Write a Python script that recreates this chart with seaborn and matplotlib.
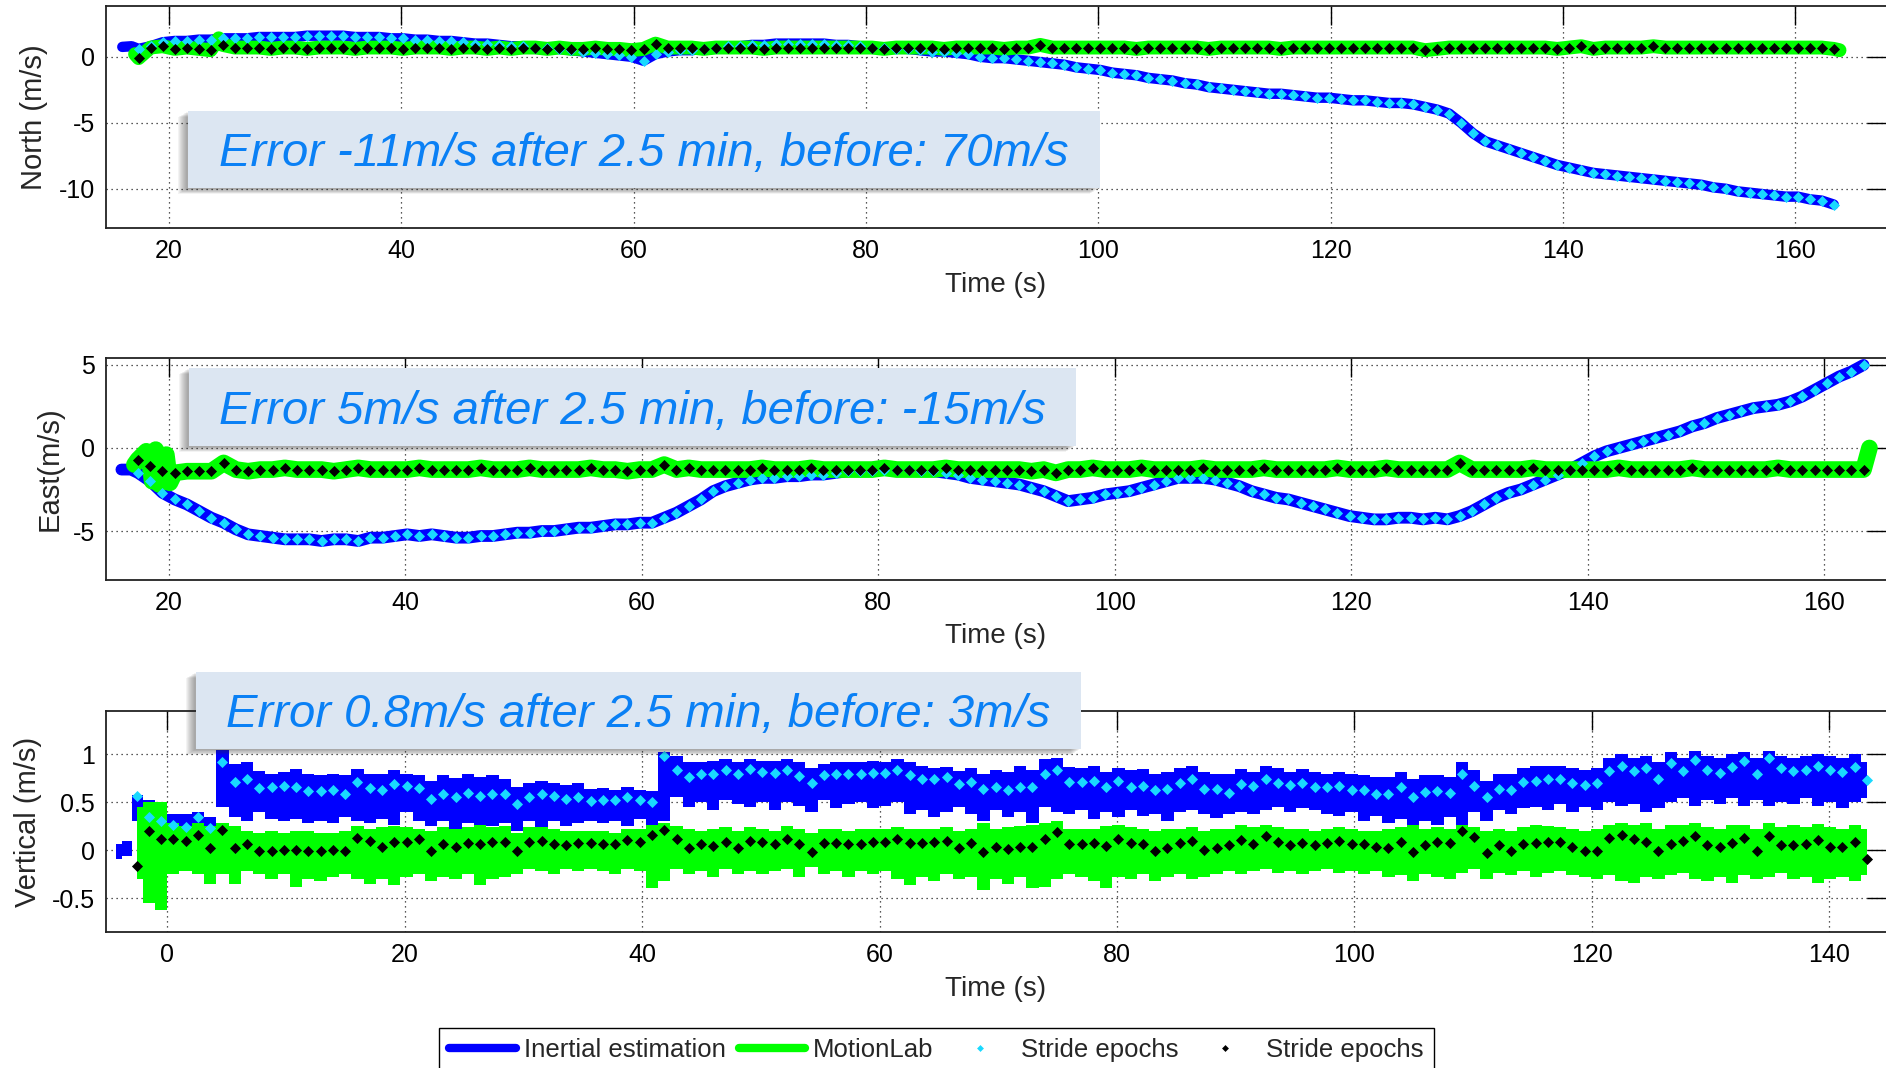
import numpy as np
import matplotlib
matplotlib.use("Agg")
import matplotlib.pyplot as plt
import seaborn as sns
from matplotlib.lines import Line2D
from matplotlib.patches import Rectangle

# ------------------------------------------------------------------ data
# stride epochs (same epochs in every panel, time origin differs)
north_stride_t0, north_stride_t1 = 17.4, 163.3
vert_stride_t0, vert_stride_t1 = -2.6, 143.2

north_inertial = [
    0.6, 0.8, 1.1, 1.2, 1.2, 1.3, 1.3, 1.4, 1.4, 1.4,
    1.5, 1.5, 1.5, 1.5, 1.6, 1.6, 1.6, 1.6, 1.5, 1.5,
    1.5, 1.4, 1.4, 1.3, 1.3, 1.2, 1.2, 1.1, 1.0, 1.0,
    0.9, 0.8, 0.8, 0.7, 0.7, 0.6, 0.5, 0.4, 0.3, 0.2,
    0.1, 0.0, -0.3, 0.2, 0.4, 0.5, 0.5, 0.6, 0.7, 0.8,
    0.8, 0.9, 0.9, 1.0, 1.0, 1.0, 1.0, 1.0, 0.9, 0.9,
    0.8, 0.7, 0.7, 0.6, 0.6, 0.5, 0.4, 0.4, 0.3, 0.2,
    0.0, -0.1, -0.1, -0.2, -0.3, -0.4, -0.5, -0.6, -0.8, -0.9,
    -1.0, -1.2, -1.3, -1.4, -1.6, -1.7, -1.8, -2.0, -2.1, -2.3,
    -2.4, -2.5, -2.6, -2.7, -2.8, -2.8, -2.9, -3.0, -3.1, -3.1,
    -3.2, -3.3, -3.3, -3.4, -3.5, -3.5, -3.6, -3.8, -4.0, -4.3,
    -5.0, -5.8, -6.4, -6.7, -7.0, -7.3, -7.6, -7.9, -8.2, -8.4,
    -8.6, -8.8, -8.9, -9.0, -9.1, -9.2, -9.3, -9.4, -9.5, -9.6,
    -9.7, -9.9, -10.0, -10.2, -10.3, -10.4, -10.5, -10.6, -10.6, -10.8,
    -10.9, -11.2]
north_motionlab = [
    -0.1, 0.7, 0.8, 0.6, 0.7, 0.6, 0.5, 0.9, 0.7, 0.7,
    0.7, 0.6, 0.7, 0.7, 0.6, 0.7, 0.7, 0.7, 0.6, 0.7,
    0.7, 0.7, 0.6, 0.7, 0.7, 0.7, 0.6, 0.7, 0.7, 0.6,
    0.7, 0.6, 0.7, 0.7, 0.6, 0.7, 0.6, 0.6, 0.7, 0.6,
    0.6, 0.5, 0.6, 1.0, 0.7, 0.7, 0.7, 0.6, 0.7, 0.7,
    0.7, 0.7, 0.6, 0.7, 0.7, 0.7, 0.7, 0.7, 0.7, 0.7,
    0.7, 0.7, 0.6, 0.7, 0.7, 0.7, 0.7, 0.6, 0.7, 0.7,
    0.7, 0.7, 0.6, 0.7, 0.7, 0.9, 0.7, 0.7, 0.7, 0.7,
    0.7, 0.7, 0.7, 0.6, 0.7, 0.7, 0.7, 0.7, 0.7, 0.6,
    0.7, 0.7, 0.7, 0.7, 0.7, 0.6, 0.7, 0.7, 0.7, 0.7,
    0.7, 0.7, 0.7, 0.7, 0.7, 0.7, 0.7, 0.5, 0.6, 0.7,
    0.7, 0.7, 0.7, 0.7, 0.7, 0.7, 0.7, 0.7, 0.6, 0.7,
    0.8, 0.6, 0.7, 0.7, 0.7, 0.7, 0.8, 0.7, 0.7, 0.7,
    0.7, 0.7, 0.7, 0.7, 0.7, 0.7, 0.7, 0.7, 0.7, 0.7,
    0.7, 0.6]
north_inertial_head_t = [16.0, 16.8]
north_inertial_head_v = [0.75, 0.8]
north_motionlab_extra_t = [17.1, 24.3, 163.8]
north_motionlab_extra_v = [0.2, 1.4, 0.5]

east_inertial = [
    -1.5, -2.0, -2.7, -3.1, -3.4, -3.8, -4.2, -4.5, -4.9, -5.2,
    -5.3, -5.4, -5.5, -5.5, -5.5, -5.6, -5.5, -5.5, -5.6, -5.4,
    -5.4, -5.3, -5.2, -5.3, -5.2, -5.3, -5.4, -5.4, -5.3, -5.3,
    -5.2, -5.1, -5.1, -5.0, -5.0, -4.9, -4.8, -4.8, -4.7, -4.6,
    -4.6, -4.5, -4.5, -4.2, -3.9, -3.5, -3.1, -2.6, -2.3, -2.1,
    -1.9, -1.8, -1.8, -1.7, -1.7, -1.6, -1.6, -1.5, -1.4, -1.4,
    -1.4, -1.3, -1.3, -1.3, -1.4, -1.4, -1.5, -1.6, -1.8, -1.9,
    -2.0, -2.1, -2.2, -2.4, -2.6, -2.9, -3.2, -3.1, -3.0, -2.8,
    -2.7, -2.6, -2.4, -2.2, -2.0, -1.8, -1.8, -1.8, -1.9, -2.1,
    -2.3, -2.6, -2.8, -3.0, -3.1, -3.3, -3.5, -3.7, -3.9, -4.1,
    -4.2, -4.3, -4.3, -4.2, -4.2, -4.3, -4.2, -4.3, -4.1, -3.8,
    -3.4, -3.0, -2.7, -2.5, -2.2, -1.9, -1.6, -1.3, -0.9, -0.5,
    -0.2, 0.0, 0.2, 0.4, 0.6, 0.8, 1.0, 1.3, 1.5, 1.8,
    2.0, 2.2, 2.4, 2.5, 2.6, 2.8, 3.1, 3.5, 3.9, 4.3,
    4.6, 5.0]
east_motionlab = [
    -0.7, -1.1, -1.4, -1.5, -1.4, -1.4, -1.4, -0.9, -1.3, -1.4,
    -1.3, -1.3, -1.2, -1.3, -1.3, -1.3, -1.4, -1.3, -1.2, -1.3,
    -1.3, -1.3, -1.3, -1.2, -1.3, -1.3, -1.3, -1.3, -1.2, -1.3,
    -1.3, -1.3, -1.2, -1.3, -1.3, -1.3, -1.3, -1.2, -1.3, -1.3,
    -1.4, -1.3, -1.3, -1.0, -1.3, -1.2, -1.3, -1.3, -1.3, -1.3,
    -1.3, -1.2, -1.3, -1.3, -1.3, -1.2, -1.3, -1.3, -1.3, -1.3,
    -1.3, -1.2, -1.3, -1.3, -1.3, -1.3, -1.2, -1.3, -1.3, -1.3,
    -1.3, -1.3, -1.3, -1.4, -1.3, -1.5, -1.3, -1.3, -1.2, -1.3,
    -1.3, -1.3, -1.2, -1.3, -1.3, -1.3, -1.3, -1.2, -1.3, -1.3,
    -1.3, -1.3, -1.2, -1.3, -1.3, -1.3, -1.3, -1.3, -1.2, -1.3,
    -1.3, -1.3, -1.2, -1.3, -1.3, -1.3, -1.3, -1.3, -0.9, -1.3,
    -1.3, -1.3, -1.3, -1.3, -1.2, -1.3, -1.3, -1.3, -1.3, -1.3,
    -1.3, -1.2, -1.3, -1.3, -1.3, -1.3, -1.3, -1.2, -1.3, -1.3,
    -1.3, -1.3, -1.3, -1.3, -1.2, -1.3, -1.3, -1.3, -1.3, -1.3,
    -1.3, -1.3]
east_inertial_head_t = [16.0, 16.8]
east_inertial_head_v = [-1.3, -1.3]
east_motionlab_extra_t = [17.1, 18.1, 18.6, 18.9, 19.2, 19.8, 20.1, 163.8]
east_motionlab_extra_v = [-1.0, -0.2, -2.0, -0.1, -2.2, -0.4, -2.1, 0.0]

vert_inertial = [
    0.57, 0.35, 0.30, 0.26, 0.24, 0.35, 0.23, 0.92, 0.71, 0.74,
    0.65, 0.66, 0.67, 0.66, 0.62, 0.62, 0.63, 0.59, 0.71, 0.65,
    0.63, 0.69, 0.67, 0.65, 0.53, 0.59, 0.56, 0.60, 0.57, 0.59,
    0.59, 0.48, 0.55, 0.59, 0.57, 0.53, 0.55, 0.51, 0.52, 0.52,
    0.56, 0.52, 0.50,
    0.98, 0.84, 0.76, 0.79, 0.80, 0.84, 0.79, 0.85, 0.82, 0.81,
    0.84, 0.77, 0.70, 0.78, 0.79, 0.80, 0.80, 0.81, 0.81, 0.84,
    0.78, 0.74, 0.74, 0.76, 0.69, 0.71, 0.64, 0.66, 0.63, 0.66,
    0.66, 0.79, 0.84, 0.71, 0.71, 0.72, 0.66, 0.72, 0.66, 0.67,
    0.63, 0.64, 0.70, 0.74, 0.64, 0.64, 0.60, 0.69,
    0.67, 0.74, 0.70, 0.68, 0.70, 0.66, 0.66, 0.67, 0.63, 0.63,
    0.59, 0.59, 0.66, 0.56, 0.61, 0.62, 0.60, 0.79, 0.67, 0.55,
    0.64, 0.63, 0.71, 0.72, 0.74, 0.74, 0.70, 0.68, 0.70, 0.83,
    0.88, 0.83, 0.86, 0.74, 0.91, 0.83, 0.94, 0.84, 0.81, 0.87,
    0.93, 0.80, 0.96, 0.86, 0.83, 0.84, 0.88, 0.84, 0.82, 0.87,
    0.73]
vert_motionlab = [
    -0.17, 0.20, 0.12, 0.12, 0.10, 0.16, 0.02, 0.21, 0.02, 0.06,
    -0.01, -0.01, 0.00, 0.00, -0.01, -0.01, 0.00, -0.01, 0.13, 0.10,
    0.03, 0.09, 0.09, 0.12, -0.01, 0.06, 0.03, 0.07, 0.06, 0.09,
    0.09, -0.01, 0.09, 0.10, 0.06, 0.05, 0.07, 0.07, 0.06, 0.06,
    0.11, 0.08, 0.16,
    0.21, 0.12, 0.02, 0.06, 0.04, 0.09, 0.02, 0.10, 0.08, 0.06,
    0.12, 0.06, -0.02, 0.07, 0.07, 0.06, 0.06, 0.09, 0.08, 0.12,
    0.07, 0.07, 0.08, 0.10, 0.02, 0.07, -0.02, 0.03, 0.01, 0.03,
    0.03, 0.12, 0.19, 0.06, 0.06, 0.07, 0.04, 0.12, 0.07, 0.06,
    -0.01, 0.02, 0.07, 0.10, 0.00, 0.02, 0.05, 0.11,
    0.06, 0.15, 0.09, 0.05, 0.07, 0.05, 0.07, 0.10, 0.06, 0.06,
    0.03, 0.02, 0.09, -0.02, 0.05, 0.09, 0.07, 0.20, 0.14, -0.03,
    0.05, -0.01, 0.06, 0.07, 0.09, 0.09, 0.03, -0.01, -0.01, 0.13,
    0.16, 0.12, 0.09, -0.01, 0.06, 0.10, 0.15, 0.05, 0.03, 0.07,
    0.13, -0.01, 0.15, 0.05, 0.05, 0.06, 0.11, 0.03, 0.03, 0.09,
    -0.09]
# per-stride envelopes of the oscillating vertical signals
vert_inertial_hi = [
    0.58, 0.52, 0.50, 0.38, 0.38, 0.40, 0.35, 1.05, 0.90, 0.92,
    0.83, 0.80, 0.82, 0.85, 0.79, 0.78, 0.80, 0.78, 0.85, 0.80,
    0.80, 0.84, 0.80, 0.78, 0.72, 0.78, 0.75, 0.80, 0.76, 0.78,
    0.74, 0.66, 0.70, 0.72, 0.70, 0.68, 0.70, 0.64, 0.65, 0.63,
    0.66, 0.63, 0.62,
    1.02, 0.98, 0.92, 0.92, 0.93, 0.95, 0.92, 0.95, 0.93, 0.93,
    0.95, 0.92, 0.86, 0.90, 0.92, 0.92, 0.92, 0.93, 0.92, 0.95,
    0.92, 0.88, 0.86, 0.87, 0.83, 0.86, 0.80, 0.84, 0.82, 0.88,
    0.84, 0.95, 0.96, 0.87, 0.86, 0.88, 0.82, 0.86, 0.84, 0.85,
    0.80, 0.82, 0.86, 0.88, 0.82, 0.80, 0.80, 0.85,
    0.82, 0.88, 0.86, 0.82, 0.85, 0.82, 0.80, 0.82, 0.80, 0.78,
    0.76, 0.76, 0.82, 0.74, 0.78, 0.78, 0.76, 0.92, 0.84, 0.72,
    0.80, 0.80, 0.86, 0.88, 0.88, 0.88, 0.86, 0.84, 0.86, 0.96,
    1.00, 0.96, 0.98, 0.92, 1.02, 0.96, 1.04, 0.98, 0.96, 1.00,
    1.02, 0.96, 1.04, 0.98, 0.96, 0.98, 1.00, 0.98, 0.96, 1.00,
    0.92]
vert_inertial_lo = [
    0.30, 0.28, 0.20, 0.15, 0.15, 0.18, 0.15, 0.45, 0.35, 0.30,
    0.40, 0.32, 0.30, 0.33, 0.28, 0.30, 0.28, 0.35, 0.30, 0.28,
    0.32, 0.26, 0.40, 0.30, 0.25, 0.30, 0.22, 0.28, 0.22, 0.25,
    0.28, 0.20, 0.30, 0.22, 0.30, 0.25, 0.28, 0.30, 0.28, 0.30,
    0.25, 0.32, 0.22,
    0.30, 0.55, 0.45, 0.50, 0.42, 0.52, 0.48, 0.45, 0.50, 0.42,
    0.50, 0.46, 0.40, 0.52, 0.44, 0.48, 0.50, 0.44, 0.46, 0.50,
    0.38, 0.42, 0.35, 0.40, 0.45, 0.38, 0.30, 0.42, 0.35, 0.40,
    0.28, 0.45, 0.40, 0.38, 0.42, 0.32, 0.40, 0.35, 0.42, 0.36,
    0.38, 0.30, 0.40, 0.42, 0.38, 0.34, 0.38, 0.40,
    0.38, 0.42, 0.45, 0.40, 0.44, 0.42, 0.38, 0.36, 0.40, 0.30,
    0.36, 0.28, 0.32, 0.24, 0.30, 0.26, 0.35, 0.22, 0.40, 0.30,
    0.42, 0.38, 0.44, 0.45, 0.42, 0.48, 0.40, 0.45, 0.42, 0.50,
    0.46, 0.48, 0.40, 0.44, 0.50, 0.54, 0.46, 0.52, 0.48, 0.54,
    0.46, 0.52, 0.46, 0.50, 0.48, 0.54, 0.46, 0.50, 0.44, 0.50,
    0.54]
vert_motionlab_hi = [
    0.45, 0.50, 0.50, 0.28, 0.25, 0.28, 0.25, 0.28, 0.25, 0.20,
    0.18, 0.20, 0.18, 0.20, 0.20, 0.18, 0.18, 0.20, 0.25, 0.22,
    0.24, 0.25, 0.24, 0.22, 0.20, 0.24, 0.22, 0.24, 0.26, 0.24,
    0.25, 0.18, 0.24, 0.24, 0.22, 0.20, 0.20, 0.20, 0.20, 0.18,
    0.22, 0.22, 0.26,
    0.28, 0.25, 0.22, 0.20, 0.22, 0.24, 0.20, 0.24, 0.22, 0.20,
    0.25, 0.22, 0.18, 0.22, 0.22, 0.20, 0.22, 0.22, 0.22, 0.24,
    0.22, 0.22, 0.22, 0.24, 0.20, 0.22, 0.28, 0.22, 0.24, 0.25,
    0.26, 0.28, 0.30, 0.22, 0.22, 0.22, 0.25, 0.26, 0.24, 0.22,
    0.20, 0.22, 0.22, 0.24, 0.20, 0.22, 0.22, 0.26,
    0.24, 0.26, 0.24, 0.22, 0.22, 0.20, 0.22, 0.24, 0.22, 0.20,
    0.20, 0.22, 0.24, 0.26, 0.22, 0.24, 0.22, 0.26, 0.24, 0.20,
    0.22, 0.20, 0.24, 0.26, 0.25, 0.24, 0.22, 0.20, 0.22, 0.26,
    0.28, 0.26, 0.28, 0.22, 0.26, 0.26, 0.28, 0.24, 0.22, 0.26,
    0.26, 0.22, 0.28, 0.24, 0.26, 0.24, 0.27, 0.24, 0.22, 0.26,
    0.22]
vert_motionlab_lo = [
    -0.30, -0.55, -0.62, -0.25, -0.22, -0.25, -0.35, -0.25, -0.35, -0.22,
    -0.25, -0.30, -0.25, -0.38, -0.30, -0.32, -0.28, -0.25, -0.30, -0.35,
    -0.30, -0.36, -0.28, -0.25, -0.32, -0.28, -0.30, -0.25, -0.36, -0.30,
    -0.28, -0.25, -0.20, -0.22, -0.25, -0.20, -0.22, -0.20, -0.22, -0.25,
    -0.20, -0.22, -0.40,
    -0.32, -0.20, -0.25, -0.22, -0.28, -0.20, -0.25, -0.22, -0.25, -0.22,
    -0.20, -0.28, -0.18, -0.25, -0.22, -0.28, -0.22, -0.25, -0.22, -0.30,
    -0.36, -0.28, -0.32, -0.25, -0.30, -0.28, -0.42, -0.30, -0.35, -0.28,
    -0.40, -0.38, -0.30, -0.25, -0.28, -0.32, -0.40, -0.28, -0.30, -0.25,
    -0.32, -0.28, -0.25, -0.30, -0.28, -0.25, -0.22, -0.25,
    -0.22, -0.20, -0.24, -0.22, -0.25, -0.22, -0.20, -0.24, -0.22, -0.25,
    -0.22, -0.28, -0.26, -0.32, -0.25, -0.28, -0.30, -0.24, -0.20, -0.30,
    -0.24, -0.26, -0.22, -0.28, -0.24, -0.22, -0.26, -0.28, -0.30, -0.26,
    -0.32, -0.34, -0.28, -0.30, -0.26, -0.24, -0.30, -0.32, -0.28, -0.34,
    -0.26, -0.30, -0.28, -0.24, -0.30, -0.28, -0.34, -0.30, -0.28, -0.32,
    -0.26]
vert_inertial_head_t = [-4.3, -3.3]
vert_inertial_head_hi = [0.06, 0.10]
vert_inertial_head_lo = [-0.09, -0.06]

# axis ticks / labels / annotations
top_xticks = [20, 40, 60, 80, 100, 120, 140, 160]
bottom_xticks = [0, 20, 40, 60, 80, 100, 120, 140]
north_yticks = [-10, -5, 0]
north_yticklabels = ["-10", "-5", "0"]
east_yticks = [-5, 0, 5]
east_yticklabels = ["-5", "0", "5"]
vert_yticks = [-0.5, 0, 0.5, 1]
vert_yticklabels = ["-0.5", "0", "0.5", "1"]
ylabels = ["North (m/s)", "East(m/s)", "Vertical (m/s)"]
xlabel = "Time (s)"
box_texts = ["Error -11m/s after 2.5 min, before: 70m/s",
             "Error 5m/s after 2.5 min, before: -15m/s",
             "Error 0.8m/s after 2.5 min, before: 3m/s"]
legend_labels = ["Inertial estimation", "MotionLab", "Stride epochs", "Stride epochs"]

# ------------------------------------------------------------------ style
sns.set_style("white")
plt.rcParams["font.family"] = ["Liberation Sans", "DejaVu Sans"]
plt.rcParams["axes.unicode_minus"] = False

BLUE = "#0000ff"
GREEN = "#00ff00"
CYAN = "#19d9ff"
BLACK = "#000000"

W, H = 1886, 1068
fig = plt.figure(figsize=(W / 100, H / 100), dpi=100)
fig.patch.set_facecolor("white")

LEFT = 105.8


def add_ax(top_px, bottom_px):
    return fig.add_axes([LEFT / W, 1 - bottom_px / H, 1 - LEFT / W, (bottom_px - top_px) / H])


ax1 = add_ax(6, 228.3)
ax2 = add_ax(358.3, 580)
ax3 = add_ax(710.7, 932.3)

tN = np.linspace(north_stride_t0, north_stride_t1, len(north_inertial))
tV = np.linspace(vert_stride_t0, vert_stride_t1, len(vert_inertial))


def merged(t_a, v_a, t_b, v_b):
    t = np.concatenate([np.asarray(t_a, float), np.asarray(t_b, float)])
    v = np.concatenate([np.asarray(v_a, float), np.asarray(v_b, float)])
    o = np.argsort(t, kind="stable")
    return t[o], v[o]


MS = 32

# ---- North
t, v = merged(north_inertial_head_t, north_inertial_head_v, tN, north_inertial)
sns.lineplot(x=t, y=v, ax=ax1, color=BLUE, lw=7.5, sort=False, estimator=None, legend=False, zorder=2)
t, v = merged(north_motionlab_extra_t, north_motionlab_extra_v, tN, north_motionlab)
sns.lineplot(x=t, y=v, ax=ax1, color=GREEN, lw=10, sort=False, estimator=None, legend=False, zorder=3)
sns.scatterplot(x=tN, y=north_inertial, ax=ax1, color=CYAN, marker="D", s=MS, linewidth=0, zorder=4, legend=False)
sns.scatterplot(x=tN, y=north_motionlab, ax=ax1, color=BLACK, marker="D", s=MS, linewidth=0, zorder=5, legend=False)

# ---- East
t, v = merged(east_inertial_head_t, east_inertial_head_v, tN, east_inertial)
sns.lineplot(x=t, y=v, ax=ax2, color=BLUE, lw=8.5, sort=False, estimator=None, legend=False, zorder=2)
t, v = merged(east_motionlab_extra_t, east_motionlab_extra_v, tN, east_motionlab)
sns.lineplot(x=t, y=v, ax=ax2, color=GREEN, lw=12, sort=False, estimator=None, legend=False, zorder=3)
sns.scatterplot(x=tN, y=east_inertial, ax=ax2, color=CYAN, marker="D", s=MS, linewidth=0, zorder=4, legend=False)
sns.scatterplot(x=tN, y=east_motionlab, ax=ax2, color=BLACK, marker="D", s=MS, linewidth=0, zorder=5, legend=False)

# ---- Vertical
n = min(len(vert_inertial_hi), len(vert_inertial_lo), len(tV))
tb = np.concatenate([vert_inertial_head_t, tV[:n]])
hi = np.concatenate([vert_inertial_head_hi, vert_inertial_hi[:n]])
lo = np.concatenate([vert_inertial_head_lo, vert_inertial_lo[:n]])
ax3.fill_between(tb, lo, hi, step="mid", color=BLUE, lw=0, zorder=2)
m = min(len(vert_motionlab_hi), len(vert_motionlab_lo), len(tV))
ax3.fill_between(tV[:m], vert_motionlab_lo[:m], vert_motionlab_hi[:m], step="mid", color=GREEN, lw=0, zorder=3)
sns.scatterplot(x=tV, y=vert_inertial, ax=ax3, color=CYAN, marker="D", s=MS, linewidth=0, zorder=4, legend=False)
sns.scatterplot(x=tV[:len(vert_motionlab)], y=vert_motionlab, ax=ax3, color=BLACK, marker="D", s=MS,
                linewidth=0, zorder=5, legend=False)

# ---- axes cosmetics
specs = [
    (ax1, (14.58, 167.8), (-13.0, 3.85), top_xticks, north_yticks, north_yticklabels, -0.0405, ylabels[0]),
    (ax2, (14.68, 165.2), (-7.95, 5.4), top_xticks, east_yticks, east_yticklabels, -0.0317, ylabels[1]),
    (ax3, (-5.19, 144.8), (-0.858, 1.456), bottom_xticks, vert_yticks, vert_yticklabels, -0.0439, ylabels[2]),
]
for ax, xl, yl, xt, yt, ytl, labx, ylab in specs:
    ax.set_xlim(*xl)
    ax.set_ylim(*yl)
    ax.set_xticks(xt)
    ax.set_xticklabels([str(x) for x in xt])
    ax.set_yticks(yt)
    ax.set_yticklabels(ytl)
    ax.set_xlabel(xlabel, fontsize=20, labelpad=6)
    ax.set_ylabel(ylab, fontsize=21, va="center")
    ax.yaxis.set_label_coords(labx, 0.5)
    ax.set_axisbelow(True)
    ax.grid(True, color="#222222", linestyle=(0, (1, 3)), linewidth=0.9)
    ax.tick_params(direction="in", length=13.5, width=1.0, top=True, right=True,
                   labelsize=18, pad=8, colors="black")
    for side in ["top", "bottom", "left"]:
        ax.spines[side].set_visible(True)
        ax.spines[side].set_color("#222222")
        ax.spines[side].set_linewidth(1.3)
    ax.spines["right"].set_visible(False)
    ax.set_facecolor("white")


# ---- annotation boxes (figure pixel coordinates)
def add_box(x0, y0, x1, y1, text):
    for k in range(2, 11):
        sh = Rectangle(((x0 - k) / W, 1 - (y1 + 0.6 * k) / H), (x1 - x0) / W, (y1 - y0) / H,
                       transform=fig.transFigure, facecolor="#303030", edgecolor="none",
                       alpha=0.055, zorder=9)
        fig.add_artist(sh)
    rect = Rectangle((x0 / W, 1 - y1 / H), (x1 - x0) / W, (y1 - y0) / H,
                     transform=fig.transFigure, facecolor="#dce6f2", edgecolor="none", zorder=10)
    fig.add_artist(rect)
    fig.text((x0 + x1) / 2 / W, 1 - ((y0 + y1) / 2 + 16.5) / H, text, ha="center", va="baseline",
             fontsize=34, style="italic", color="#0a80f5", zorder=11)


add_box(188, 111, 1100, 188, box_texts[0])
add_box(189, 368, 1076, 446, box_texts[1])
add_box(196, 672, 1081, 749, box_texts[2])

# ---- legend
handles = [Line2D([], [], color=BLUE, lw=6),
           Line2D([], [], color=GREEN, lw=6),
           Line2D([], [], ls="none", marker="D", ms=3.5, color=CYAN, mew=0),
           Line2D([], [], ls="none", marker="D", ms=3.5, color=BLACK, mew=0)]
leg = fig.legend(handles, legend_labels, ncol=4, loc="upper left",
                 bbox_to_anchor=(439 / W, 1 - 1028 / H), bbox_transform=fig.transFigure,
                 frameon=True, fancybox=False, edgecolor="black", framealpha=1,
                 fontsize=18.5, handlelength=2.6, handletextpad=0.3, columnspacing=0.5,
                 borderpad=0.4, borderaxespad=0)
leg.get_frame().set_linewidth(1.0)

fig.savefig("out.png", dpi=100, facecolor="white")
